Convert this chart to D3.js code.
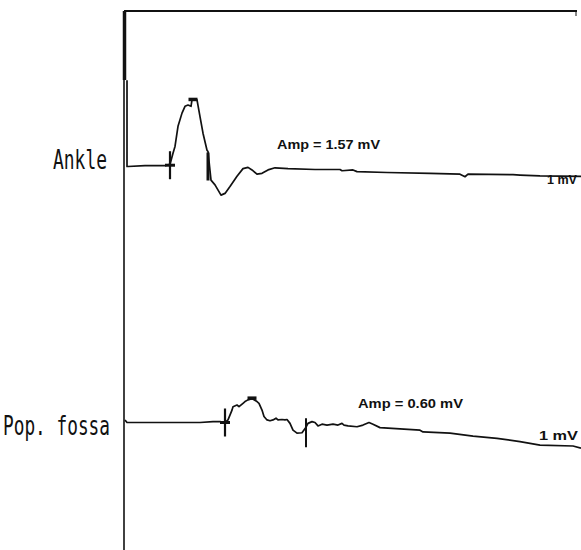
<!DOCTYPE html>
<html>
<head>
<meta charset="utf-8">
<script src="https://cdn.jsdelivr.net/npm/d3@7/dist/d3.min.js"></script>
<style>
  html, body { margin: 0; padding: 0; background: #fff; }
  svg { display: block; }
</style>
</head>
<body>
<svg id="chart" width="581" height="550"></svg>
<script>
// ---- Data (time in ms, amplitude in mV relative to each trace's baseline) ----
const traceNames = ["Ankle", "Pop. fossa"];
const ampLabels = ["Amp = 1.57 mV", "Amp = 0.60 mV"];
const scaleLabel = "1  mV";

const ankleTime = [0.3, 0.3, 0.4, 2.1, 4.1, 4.6, 4.9, 5.1, 5.4, 5.8, 6.1, 6.4, 6.7, 6.8, 6.9, 7.3, 7.6, 7.9, 8.3, 8.4,
  8.7, 9.1, 9.7, 10.1, 10.6, 11.3, 11.9, 12.4, 12.8, 13.3, 13.8, 14.4, 15.1, 16.4, 19.1, 21.6, 21.8, 22.9, 23.3,
  26.3, 30.6, 33.6, 34.1, 34.4, 38.9, 39.6, 41.6, 45.7];
const ankleAmp = [2.02, 0, 0, 0.02, 0.02, 0.05, 0.31, 0.47, 0.94, 1.25, 1.41, 1.44, 1.41, 1.56, 1.57, 1.56, 1.17, 0.78, 0.38, 0.35,
  -0.32, -0.43, -0.67, -0.63, -0.47, -0.23, -0.05, -0.02, -0.08, -0.18, -0.16, -0.08, -0.03, -0.05, -0.07, -0.07, -0.10, -0.08, -0.12,
  -0.14, -0.16, -0.18, -0.24, -0.18, -0.19, -0.20, -0.22, -0.23];

const popTime = [0.1, 0.3, 7.6, 8.9, 9.6, 10.1, 10.4, 10.8, 10.9, 11.3, 11.5, 11.9, 12.1, 12.4, 12.8, 13.3, 13.5, 13.8, 14.0, 14.3,
  14.6, 14.9, 15.2, 15.4, 15.8, 16.1, 16.3, 16.6, 16.9, 17.3, 17.8, 18.2, 18.4, 18.8, 19.1, 19.4, 19.8, 20.3, 20.9, 21.4,
  21.8, 22.0, 22.4, 23.3, 23.9, 24.5, 24.9, 25.6, 29.6, 29.9, 32.6, 34.9, 37.3, 39.6, 41.6, 44.9, 45.7];
const popAmp = [0.06, 0, 0, 0.02, 0.02, 0, 0.06, 0.29, 0.37, 0.41, 0.37, 0.45, 0.49, 0.53, 0.56, 0.49, 0.45, 0.29, 0.14, 0.06,
  0.04, 0.06, 0.10, 0.06, 0.07, 0.06, 0.07, -0.02, -0.18, -0.25, -0.24, -0.11, -0.02, 0.02, 0, -0.08, -0.04, -0.06, -0.04, -0.06,
  -0.02, -0.06, -0.08, -0.10, -0.06, 0, -0.04, -0.12, -0.18, -0.22, -0.25, -0.32, -0.37, -0.45, -0.53, -0.55, -0.60];

// markers: onset (cross), peak (bar), end (vertical bar)
const ankleMarkers = { onset: [4.6, 0.03], peak: [6.9, 1.57], end: [8.4, 0.0] };
const popMarkers = { onset: [10.1, 0.0], peak: [12.8, 0.57], end: [18.2, -0.11] };

// ---- Layout ----
const svg = d3.select("#chart");
const W = 581, H = 550;
const axisX = 124, topY = 11;
const x = d3.scaleLinear().domain([0, 45.7]).range([124, 581]);
const pxPerMv = 42.7;
const baselines = [166.5, 422.5];
const yScales = baselines.map(b => d3.scaleLinear().domain([0, 1]).range([b, b - pxPerMv]));

const ink = "#111";

// frame
svg.append("line").attr("x1", axisX).attr("x2", 577).attr("y1", topY).attr("y2", topY)
  .attr("stroke", ink).attr("stroke-width", 2);
svg.append("line").attr("x1", 576).attr("x2", 576).attr("y1", topY).attr("y2", topY + 5)
  .attr("stroke", ink).attr("stroke-width", 1);
svg.append("line").attr("x1", axisX).attr("x2", axisX).attr("y1", topY).attr("y2", H)
  .attr("stroke", ink).attr("stroke-width", 1.6);
svg.append("line").attr("x1", axisX + 0.5).attr("x2", axisX + 0.5).attr("y1", topY).attr("y2", 80)
  .attr("stroke", ink).attr("stroke-width", 3.5);

const traces = [
  { t: ankleTime, v: ankleAmp, m: ankleMarkers },
  { t: popTime, v: popAmp, m: popMarkers }
];

traces.forEach((tr, i) => {
  const y = yScales[i];
  const pts = tr.t.map((t, k) => [t, tr.v[k]]);
  const line = d3.line().x(d => x(d[0])).y(d => y(d[1])).curve(d3.curveLinear);
  svg.append("path").attr("d", line(pts)).attr("fill", "none")
    .attr("stroke", ink).attr("stroke-width", 1.7).attr("stroke-linejoin", "round");

  const g = svg.append("g").attr("stroke", ink);
  // onset cross
  const ox = x(tr.m.onset[0]), oy = y(tr.m.onset[1]);
  g.append("line").attr("x1", ox).attr("x2", ox).attr("y1", oy - 14).attr("y2", oy + 14).attr("stroke-width", 2.2);
  g.append("line").attr("x1", ox - 5).attr("x2", ox + 5).attr("y1", oy).attr("y2", oy).attr("stroke-width", 3);
  // peak bar
  const px = x(tr.m.peak[0]), py = y(tr.m.peak[1]);
  g.append("line").attr("x1", px - 4.5).attr("x2", px + 4.5).attr("y1", py).attr("y2", py).attr("stroke-width", 3.5);
  // end marker
  const ex = x(tr.m.end[0]), ey = y(tr.m.end[1]);
  if (i === 0) {
    g.append("line").attr("x1", ex).attr("x2", ex).attr("y1", ey - 14).attr("y2", ey + 14).attr("stroke-width", 3);
  } else {
    g.append("line").attr("x1", ex).attr("x2", ex).attr("y1", ey - 9).attr("y2", ey + 20).attr("stroke-width", 2);
  }
});

// left trace names
const nameSpecs = [
  { x: 53, y: 169, len: 54 },
  { x: 3, y: 435, len: 107 }
];
traceNames.forEach((n, i) => {
  svg.append("text").attr("x", nameSpecs[i].x).attr("y", nameSpecs[i].y)
    .attr("font-family", "DejaVu Sans Mono, monospace").attr("font-size", 26)
    .attr("textLength", nameSpecs[i].len).attr("lengthAdjust", "spacingAndGlyphs")
    .attr("fill", ink).text(n);
});

// amplitude labels
const ampSpecs = [
  { x: 277, y: 148.5, len: 103 },
  { x: 358, y: 407.5, len: 105 }
];
ampLabels.forEach((a, i) => {
  svg.append("text").attr("x", ampSpecs[i].x).attr("y", ampSpecs[i].y)
    .attr("font-family", "Liberation Sans, Arial, sans-serif").attr("font-weight", "bold")
    .attr("font-size", 13.5).attr("textLength", ampSpecs[i].len).attr("lengthAdjust", "spacingAndGlyphs")
    .attr("fill", ink).text(a);
});

// scale labels "1 mV"
const scaleSpecs = [
  { x: 547, y: 183.5, len: 30 },
  { x: 539, y: 439.5, len: 39 }
];
scaleSpecs.forEach(s => {
  svg.append("text").attr("x", s.x).attr("y", s.y)
    .attr("font-family", "Liberation Sans, Arial, sans-serif").attr("font-weight", "bold")
    .attr("font-size", 12.5).attr("textLength", s.len).attr("lengthAdjust", "spacingAndGlyphs")
    .attr("fill", ink).text(scaleLabel);
});
</script>
</body>
</html>
